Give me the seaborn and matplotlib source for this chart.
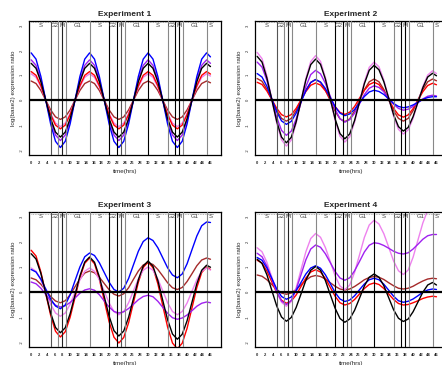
import numpy as np
import pandas as pd
import matplotlib
matplotlib.use("Agg")
import matplotlib.pyplot as plt
import seaborn as sns

# sample times (hrs)
hours = list(np.arange(0, 46, 1.25)) + [46]

# cell cycle phases
phase_lines = [5, 7, 8, 9, 15, 20, 22, 23, 24, 30, 35, 37, 38, 39, 45]
phase_line_colors = ["#555555", "#888888", "#222222", "#888888", "#888888",
                     "black", "black", "#555555", "#888888", "black",
                     "#888888", "black", "black", "#888888", "#888888"]
phase_names = ["S", "G2", "M", "G1", "S", "G2", "M", "G1", "S", "G2", "M", "G1", "S"]
phase_name_pos = [2.5, 6, 8, 12, 17.5, 21, 23, 27, 32.5, 36, 38, 42, 46]

# Experiment 1
e1_blue = [1.9, 1.65, 0.95, 0, -0.95, -1.65, -1.9, -1.65, -0.95, 0, 0.95, 1.65,
           1.9, 1.65, 0.95, 0, -0.95, -1.65, -1.9, -1.65, -0.95, 0, 0.95, 1.65,
           1.9, 1.65, 0.95, 0, -0.95, -1.65, -1.9, -1.65, -0.95, 0, 0.95, 1.65,
           1.9, 1.74]
e1_purple = [1.62, 1.4, 0.81, 0, -0.81, -1.4, -1.62, -1.4, -0.81, 0, 0.81, 1.4,
             1.62, 1.4, 0.81, 0, -0.81, -1.4, -1.62, -1.4, -0.81, 0, 0.81, 1.4,
             1.62, 1.4, 0.81, 0, -0.81, -1.4, -1.62, -1.4, -0.81, 0, 0.81, 1.4,
             1.62, 1.48]
e1_black = [1.48, 1.28, 0.74, 0, -0.74, -1.28, -1.48, -1.28, -0.74, 0, 0.74, 1.28,
            1.48, 1.28, 0.74, 0, -0.74, -1.28, -1.48, -1.28, -0.74, 0, 0.74, 1.28,
            1.48, 1.28, 0.74, 0, -0.74, -1.28, -1.48, -1.28, -0.74, 0, 0.74, 1.28,
            1.48, 1.35]
e1_red = [1.15, 1.0, 0.58, 0, -0.58, -1.0, -1.15, -1.0, -0.58, 0, 0.58, 1.0,
          1.15, 1.0, 0.58, 0, -0.58, -1.0, -1.15, -1.0, -0.58, 0, 0.58, 1.0,
          1.15, 1.0, 0.58, 0, -0.58, -1.0, -1.15, -1.0, -0.58, 0, 0.58, 1.0,
          1.15, 1.05]
e1_violet = [1.06, 0.92, 0.53, 0, -0.53, -0.92, -1.06, -0.92, -0.53, 0, 0.53, 0.92,
             1.06, 0.92, 0.53, 0, -0.53, -0.92, -1.06, -0.92, -0.53, 0, 0.53, 0.92,
             1.06, 0.92, 0.53, 0, -0.53, -0.92, -1.06, -0.92, -0.53, 0, 0.53, 0.92,
             1.06, 0.97]
e1_brown = [0.77, 0.67, 0.39, 0, -0.39, -0.67, -0.77, -0.67, -0.39, 0, 0.39, 0.67,
            0.77, 0.67, 0.39, 0, -0.39, -0.67, -0.77, -0.67, -0.39, 0, 0.39, 0.67,
            0.77, 0.67, 0.39, 0, -0.39, -0.67, -0.77, -0.67, -0.39, 0, 0.39, 0.67,
            0.77, 0.7]

# Experiment 2
e2_violet = [1.92, 1.67, 0.98, 0.04, -0.90, -1.59, -1.84, -1.60, -0.93, -0.03, 0.88, 1.55,
             1.79, 1.56, 0.92, 0.06, -0.81, -1.45, -1.68, -1.47, -0.88, -0.08, 0.73, 1.32,
             1.53, 1.34, 0.81, 0.09, -0.64, -1.17, -1.36, -1.19, -0.73, -0.09, 0.55, 1.01,
             1.18, 1.07]
e2_black = [1.76, 1.53, 0.89, 0.03, -0.84, -1.48, -1.71, -1.49, -0.87, -0.03, 0.81, 1.43,
            1.65, 1.44, 0.85, 0.05, -0.75, -1.34, -1.55, -1.35, -0.81, -0.08, 0.66, 1.2,
            1.4, 1.22, 0.74, 0.08, -0.58, -1.06, -1.24, -1.09, -0.66, -0.08, 0.5, 0.93,
            1.08, 0.98]
e2_purple = [1.53, 1.33, 0.8, 0.06, -0.68, -1.21, -1.41, -1.24, -0.76, -0.1, 0.55, 1.03,
             1.2, 1.06, 0.68, 0.16, -0.36, -0.74, -0.88, -0.78, -0.52, -0.15, 0.22, 0.48,
             0.58, 0.51, 0.34, 0.09, -0.16, -0.33, -0.4, -0.36, -0.25, -0.1, 0.05, 0.16,
             0.2, 0.17]
e2_blue = [1.07, 0.93, 0.56, 0.05, -0.46, -0.83, -0.97, -0.85, -0.52, -0.07, 0.38, 0.71,
           0.83, 0.73, 0.47, 0.11, -0.26, -0.52, -0.62, -0.55, -0.37, -0.11, 0.15, 0.33,
           0.4, 0.35, 0.23, 0.05, -0.13, -0.25, -0.3, -0.27, -0.19, -0.08, 0.03, 0.11,
           0.14, 0.14]
e2_brown = [0.87, 0.76, 0.44, 0.02, -0.41, -0.73, -0.84, -0.73, -0.42, 0.0, 0.41, 0.72,
            0.83, 0.72, 0.41, -0.02, -0.44, -0.75, -0.86, -0.75, -0.43, 0.0, 0.42, 0.74,
            0.85, 0.74, 0.43, 0.01, -0.42, -0.73, -0.84, -0.73, -0.42, 0.01, 0.43, 0.74,
            0.85, 0.78]
e2_red = [0.72, 0.63, 0.37, 0.03, -0.32, -0.58, -0.67, -0.58, -0.33, 0.01, 0.35, 0.6,
          0.69, 0.61, 0.38, 0.06, -0.26, -0.49, -0.57, -0.48, -0.25, 0.08, 0.4, 0.63,
          0.72, 0.63, 0.37, 0.02, -0.33, -0.59, -0.68, -0.59, -0.34, 0.0, 0.34, 0.59,
          0.68, 0.62]

# Experiment 3
e3_red = [1.67, 1.44, 0.8, -0.07, -0.93, -1.57, -1.8, -1.59, -1.01, -0.22, 0.57, 1.15,
          1.36, 1.13, 0.51, -0.34, -1.19, -1.81, -2.04, -1.82, -1.23, -0.42, 0.39, 0.98,
          1.2, 0.97, 0.33, -0.54, -1.4, -2.04, -2.27, -2.05, -1.45, -0.64, 0.18, 0.78,
          1.0, 0.9]
e3_black = [1.53, 1.32, 0.74, -0.05, -0.84, -1.42, -1.63, -1.43, -0.87, -0.12, 0.64, 1.2,
            1.4, 1.19, 0.61, -0.18, -0.97, -1.55, -1.76, -1.56, -1.01, -0.26, 0.49, 1.04,
            1.24, 1.03, 0.46, -0.33, -1.11, -1.68, -1.89, -1.69, -1.15, -0.41, 0.33, 0.87,
            1.07, 0.99]
e3_violet = [0.96, 0.83, 0.48, -0.01, -0.49, -0.84, -0.97, -0.84, -0.49, -0.01, 0.48, 0.83,
             0.96, 0.83, 0.49, 0.03, -0.44, -0.78, -0.91, -0.78, -0.43, 0.05, 0.52, 0.87,
             1.0, 0.87, 0.52, 0.05, -0.43, -0.78, -0.91, -0.78, -0.44, 0.03, 0.49, 0.83,
             0.96, 0.88]
e3_brown = [0.56, 0.49, 0.31, 0.07, -0.18, -0.36, -0.43, -0.35, -0.11, 0.21, 0.52, 0.76,
            0.84, 0.77, 0.59, 0.34, 0.09, -0.09, -0.16, -0.07, 0.17, 0.51, 0.84, 1.08,
            1.17, 1.1, 0.9, 0.64, 0.37, 0.17, 0.1, 0.18, 0.42, 0.73, 1.05, 1.28,
            1.36, 1.31]
e3_purple = [0.4, 0.33, 0.15, -0.1, -0.35, -0.53, -0.6, -0.55, -0.42, -0.24, -0.05, 0.08,
             0.13, 0.07, -0.11, -0.36, -0.6, -0.78, -0.84, -0.79, -0.66, -0.49, -0.31, -0.18,
             -0.13, -0.19, -0.37, -0.61, -0.85, -1.03, -1.09, -1.04, -0.92, -0.75, -0.57, -0.45,
             -0.4, -0.43]
e3_blue = [0.9, 0.8, 0.51, 0.12, -0.28, -0.56, -0.67, -0.52, -0.11, 0.45, 1.0, 1.41,
           1.56, 1.46, 1.17, 0.78, 0.39, 0.1, 0.0, 0.15, 0.54, 1.09, 1.63, 2.02,
           2.17, 2.06, 1.77, 1.37, 0.97, 0.68, 0.57, 0.72, 1.13, 1.69, 2.24, 2.65,
           2.8, 2.78]

# Experiment 4
e4_violet = [1.77, 1.61, 1.19, 0.6, 0.02, -0.41, -0.57, -0.38, 0.16, 0.89, 1.61, 2.14,
             2.34, 2.19, 1.78, 1.22, 0.65, 0.24, 0.09, 0.28, 0.79, 1.48, 2.18, 2.68,
             2.87, 2.72, 2.33, 1.79, 1.24, 0.85, 0.7, 0.88, 1.39, 2.08, 2.76, 3.27,
             3.45, 3.33]
e4_purple = [1.55, 1.41, 1.04, 0.53, 0.01, -0.36, -0.5, -0.34, 0.1, 0.69, 1.29, 1.72,
             1.88, 1.79, 1.53, 1.18, 0.82, 0.56, 0.47, 0.57, 0.85, 1.22, 1.6, 1.87,
             1.97, 1.94, 1.86, 1.75, 1.63, 1.55, 1.52, 1.57, 1.72, 1.91, 2.11, 2.25,
             2.3, 2.3]
e4_blue = [1.38, 1.27, 0.96, 0.55, 0.13, -0.18, -0.29, -0.2, 0.05, 0.38, 0.72, 0.96,
           1.05, 0.95, 0.69, 0.34, -0.02, -0.28, -0.38, -0.32, -0.15, 0.09, 0.32, 0.49,
           0.55, 0.49, 0.31, 0.07, -0.17, -0.35, -0.41, -0.37, -0.28, -0.15, -0.01, 0.08,
           0.12, 0.1]
e4_black = [1.31, 1.14, 0.69, 0.07, -0.55, -1.0, -1.17, -1.02, -0.62, -0.08, 0.47, 0.87,
            1.02, 0.87, 0.46, -0.1, -0.65, -1.06, -1.21, -1.08, -0.73, -0.25, 0.24, 0.59,
            0.72, 0.59, 0.25, -0.23, -0.71, -1.05, -1.18, -1.08, -0.79, -0.4, -0.01, 0.28,
            0.38, 0.28]
e4_red = [1.27, 1.16, 0.84, 0.41, -0.02, -0.33, -0.45, -0.36, -0.12, 0.22, 0.56, 0.8,
          0.89, 0.8, 0.54, 0.19, -0.17, -0.43, -0.52, -0.46, -0.3, -0.08, 0.14, 0.3,
          0.36, 0.3, 0.14, -0.08, -0.3, -0.46, -0.52, -0.5, -0.43, -0.35, -0.26, -0.2,
          -0.17, -0.19]
e4_brown = [0.68, 0.63, 0.49, 0.3, 0.1, -0.04, -0.09, -0.04, 0.1, 0.29, 0.47, 0.61,
            0.66, 0.62, 0.52, 0.37, 0.23, 0.12, 0.08, 0.12, 0.22, 0.35, 0.49, 0.58,
            0.62, 0.59, 0.5, 0.37, 0.25, 0.15, 0.12, 0.15, 0.23, 0.34, 0.44, 0.52,
            0.55, 0.53]

palette = {"brown": "#A52A2A", "red": "#FF0000", "violet": "#EE82EE",
           "purple": "#A020F0", "blue": "#0000FF", "black": "#000000"}

experiments = [
    ("Experiment 1", {"brown": e1_brown, "violet": e1_violet, "red": e1_red,
                      "purple": e1_purple, "blue": e1_blue, "black": e1_black}),
    ("Experiment 2", {"brown": e2_brown, "red": e2_red, "violet": e2_violet,
                      "purple": e2_purple, "blue": e2_blue, "black": e2_black}),
    ("Experiment 3", {"brown": e3_brown, "red": e3_red, "violet": e3_violet,
                      "purple": e3_purple, "blue": e3_blue, "black": e3_black}),
    ("Experiment 4", {"brown": e4_brown, "red": e4_red, "violet": e4_violet,
                      "purple": e4_purple, "blue": e4_blue, "black": e4_black}),
]

sns.set_theme(style="white")
plt.rcParams["font.family"] = ["Liberation Sans", "DejaVu Sans"]

fig = plt.figure(figsize=(4.42, 3.65), dpi=100)
positions = [
    [29 / 442, 1 - 155 / 365, 192 / 442, 134.5 / 365],
    [255 / 442, 1 - 155 / 365, 192 / 442, 134.5 / 365],
    [29 / 442, 1 - 347 / 365, 192 / 442, 135 / 365],
    [255 / 442, 1 - 347 / 365, 192 / 442, 135 / 365],
]

for (title, series), pos in zip(experiments, positions):
    ax = fig.add_axes(pos)
    frames = [pd.DataFrame({"hours": hours, "ratio": vals, "gene": name})
              for name, vals in series.items()]
    df = pd.concat(frames, ignore_index=True)
    sns.lineplot(data=df, x="hours", y="ratio", hue="gene", palette=palette,
                 estimator=None, legend=False, linewidth=1.0, ax=ax)

    for xv, c in zip(phase_lines, phase_line_colors):
        ax.axvline(xv, color=c, lw=0.8, zorder=3)
    ax.axhline(0, color="black", lw=1.6, zorder=4)
    ax.plot([0, 47], [3.13, 3.13], color="#999999", lw=0.6, ls=(0, (1, 1)))
    for name, xp in zip(phase_names, phase_name_pos):
        ax.text(xp, 3.0, name, fontsize=4.3, color="#444444",
                ha="center", va="center", zorder=5)

    ax.set_xlim(-0.55, 48.7)
    ax.set_ylim(-2.2, 3.2)
    ax.set_xticks(range(0, 47))
    ax.set_xticklabels([str(i) if i % 2 == 0 else "" for i in range(0, 47)],
                       fontsize=3, fontweight="bold")
    ax.set_yticks([-2, -1, 0, 1, 2, 3])
    ax.set_yticklabels(["-2", "-1", "0", "1", "2", "3"], fontsize=3,
                       rotation=90, va="center")
    ax.tick_params(axis="x", length=2.5, width=1.2, pad=1.5, color="black")
    ax.tick_params(axis="y", length=2, width=0.6, pad=1.5, color="black")
    for sp in ax.spines.values():
        sp.set_color("black")
        sp.set_linewidth(0.9)
    ax.set_title(title, fontsize=6, fontweight="bold", pad=3.5)
    ax.set_xlabel("time(hrs)", fontsize=4.5, labelpad=3)
    ax.set_ylabel("log(base2) expression ratio", fontsize=4.5, labelpad=3)

fig.savefig("out.png", dpi=100)
